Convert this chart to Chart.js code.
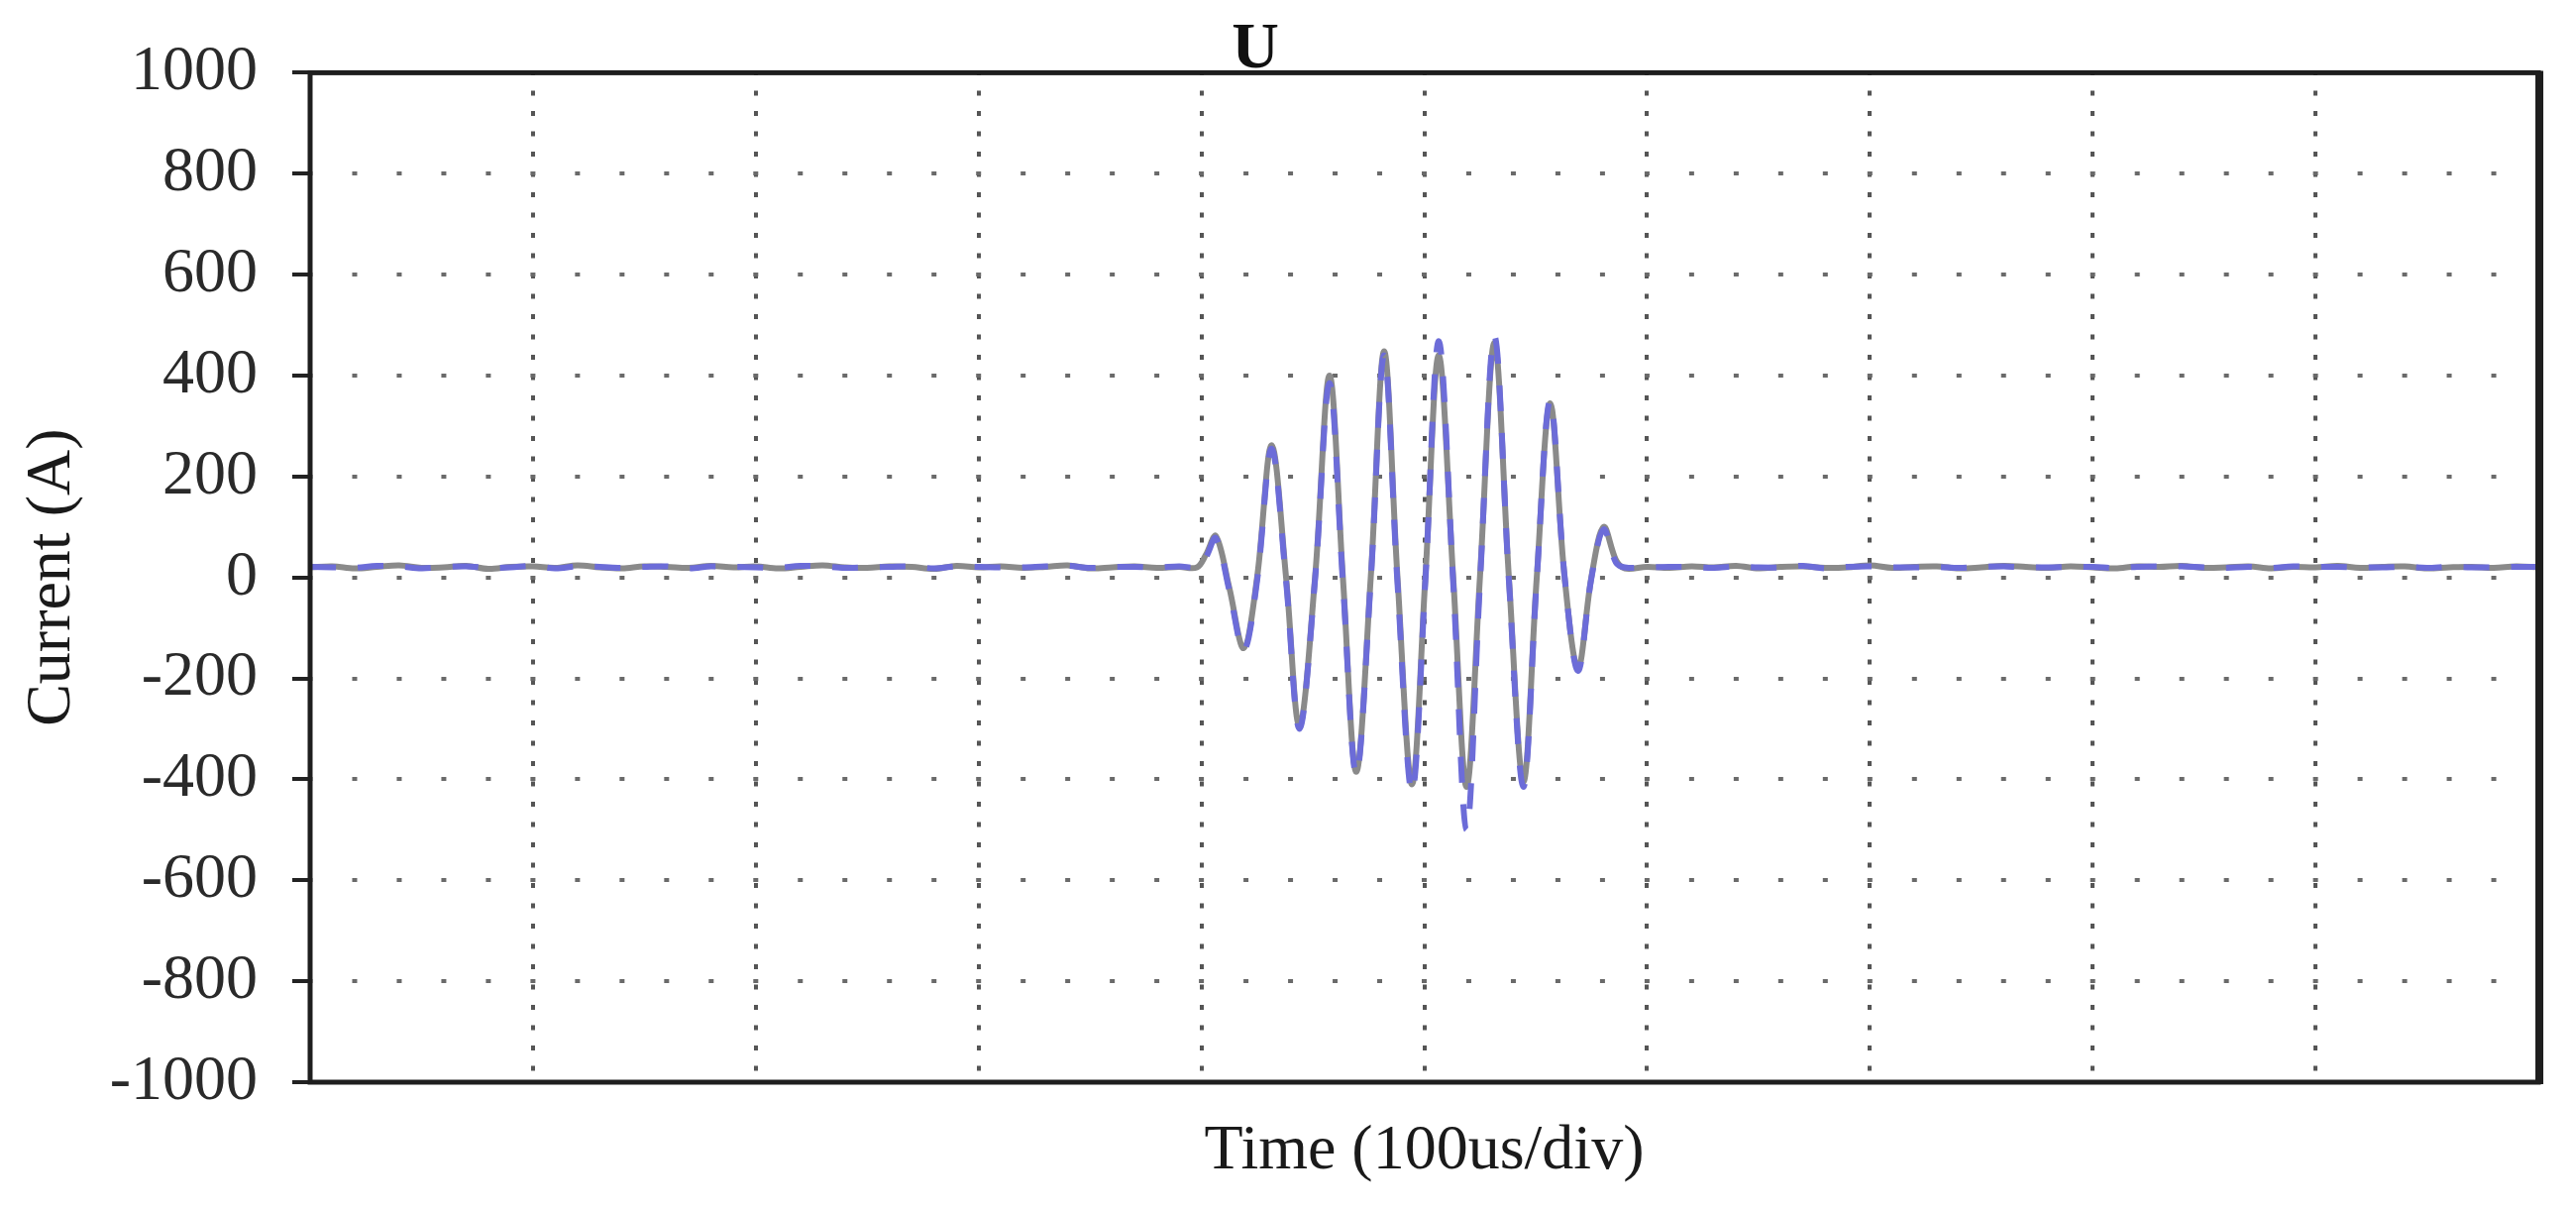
<!DOCTYPE html>
<html lang="en">
<head>
    <meta charset="UTF-8">
    <title>Current waveform</title>
    <script src="https://cdn.jsdelivr.net/npm/chart.js"></script>
    <style>
        body { margin: 0; background: #fff; }
        #wave { display: block; }
    </style>
</head>
<body>
<canvas id="wave" width="2600" height="1223"></canvas>

<script>
// time axis, microseconds (100 us per division)
const timeUs = [
    0, 10, 20, 30, 40, 50, 60, 70, 80, 90,
    100, 110, 120, 130, 140, 150, 160, 170, 180, 190,
    200, 210, 220, 230, 240, 250, 260, 270, 280, 290,
    300, 310, 320, 330, 340, 350, 360, 370, 380, 390,
    398, 402, 406.5, 412.5, 419, 425, 431.5, 438, 444, 451,
    457.5, 463.5, 469.5, 476, 482, 488, 494.5, 500.5, 506.5, 513,
    519, 525, 531.5, 538, 544.5, 550.5, 556.5, 563, 569, 575,
    580.5, 586, 590,
    600, 610, 620, 630, 640, 650, 660, 670, 680, 690,
    700, 710, 720, 730, 740, 750, 760, 770, 780, 790,
    800, 810, 820, 830, 840, 850, 860, 870, 880, 890,
    900, 910, 920, 930, 940, 950, 960, 970, 980, 990,
    1000
];

// current (A), grey trace
const grayCurrent = [
    20, 22, 18, 21, 24, 19, 20, 23, 17, 21,
    22, 19, 24, 20, 18, 22, 21, 19, 23, 20,
    22, 18, 21, 24, 20, 19, 22, 21, 17, 23,
    20, 22, 19, 21, 24, 18, 20, 22, 19, 21,
    20, 45, 82, -20, -140, 0, 262, 0, -295, 0,
    400, 0, -385, 0, 448, 0, -410, 0, 440, 0,
    -415, 0, 465, 0, -405, 0, 345, 0, -180, 0,
    100, 35, 18,
    21, 19, 22, 20, 23, 18, 21, 22, 19, 20,
    24, 19, 21, 22, 18, 20, 23, 21, 19, 22,
    20, 18, 22, 21, 23, 19, 20, 22, 18, 21,
    20, 23, 19, 21, 22, 18, 20, 21, 19, 22,
    20
];

// current (A), blue trace
const blueCurrent = [
    21, 20, 19, 23, 22, 18, 21, 22, 19, 20,
    23, 18, 22, 21, 19, 21, 22, 18, 22, 21,
    20, 19, 23, 22, 19, 20, 21, 22, 18, 22,
    21, 20, 20, 22, 23, 19, 21, 21, 20, 22,
    21, 40, 78, -25, -145, -6, 255, -8, -300, -4,
    385, -10, -390, -6, 440, -12, -425, -8, 468, -10,
    -500, -12, 478, -6, -415, -4, 350, 2, -185, -2,
    95, 30, 20,
    20, 21, 21, 19, 22, 20, 20, 23, 18, 21,
    22, 20, 20, 21, 19, 21, 22, 20, 20, 21,
    21, 19, 21, 22, 22, 20, 19, 21, 19, 22,
    21, 21, 20, 20, 21, 19, 21, 20, 20, 21,
    21
];

const yMin = -1000, yMax = 1000, yStep = 200;
const xMin = 0, xMax = 1000, xStep = 100;

function toPoints(values) {
    return values.map((v, i) => ({ x: timeUs[i], y: v }));
}

const serif = 'Liberation Serif, Times New Roman, serif';

// frame around the plot + the small "U" marker at the top
const framePlugin = {
    id: 'frame',
    afterDraw(chart) {
        const { ctx, chartArea: a } = chart;
        ctx.save();
        ctx.fillStyle = '#111';
        ctx.font = 'bold 66px ' + serif;
        ctx.textAlign = 'center';
        ctx.textBaseline = 'alphabetic';
        ctx.fillText('U', 1267, 68);

        ctx.strokeStyle = '#1e1e1e';
        ctx.lineWidth = 5;
        ctx.strokeRect(a.left, a.top, a.right - a.left, a.bottom - a.top);
        ctx.lineWidth = 8;
        ctx.beginPath();
        ctx.moveTo(a.right + 1, a.top - 2);
        ctx.lineTo(a.right + 1, a.bottom + 2);
        ctx.stroke();
        ctx.restore();
    }
};

new Chart(document.getElementById('wave'), {
    type: 'line',
    data: {
        datasets: [
            {
                label: 'blue',
                data: toPoints(blueCurrent),
                borderColor: '#6c6cd8',
                borderWidth: 6,
                borderDash: [26, 22],
                pointRadius: 0,
                tension: 0.35,
                order: 0
            },
            {
                label: 'grey',
                data: toPoints(grayCurrent),
                borderColor: '#8a8a8a',
                borderWidth: 6,
                pointRadius: 0,
                tension: 0.35,
                order: 1
            }
        ]
    },
    options: {
        responsive: false,
        animation: false,
        layout: { padding: { top: 67, right: 38, left: 0, bottom: 0 } },
        plugins: {
            legend: { display: false },
            tooltip: { enabled: false }
        },
        scales: {
            x: {
                type: 'linear',
                min: xMin,
                max: xMax,
                border: { display: false, dash: [5, 15.5], dashOffset: 2.5 },
                ticks: { display: false, stepSize: xStep },
                grid: {
                    color: '#555',
                    lineWidth: 4,
                    drawTicks: false
                },
                title: {
                    display: true,
                    text: 'Time (100us/div)',
                    color: '#1a1a1a',
                    font: { family: serif, size: 64 },
                    padding: { top: 22, bottom: 22 }
                },
                afterFit(scale) { scale.height = 131; }
            },
            y: {
                min: yMin,
                max: yMax,
                border: { display: false, dash: [5, 39.98], dashOffset: 2.5 },
                ticks: {
                    stepSize: yStep,
                    color: '#2a2a2a',
                    padding: 35,
                    font: { family: serif, size: 64 },
                    callback: (v) => String(v)
                },
                grid: {
                    color: '#6a6a6a',
                    lineWidth: 4,
                    tickLength: 18,
                    tickColor: '#222',
                    tickWidth: 4,
                    tickBorderDash: []
                },
                title: {
                    display: true,
                    text: 'Current (A)',
                    color: '#1a1a1a',
                    font: { family: serif, size: 64 },
                    padding: { top: 15, bottom: 15 }
                },
                afterFit(scale) { scale.width = 313; }
            }
        }
    },
    plugins: [framePlugin]
});
</script>
</body>
</html>
